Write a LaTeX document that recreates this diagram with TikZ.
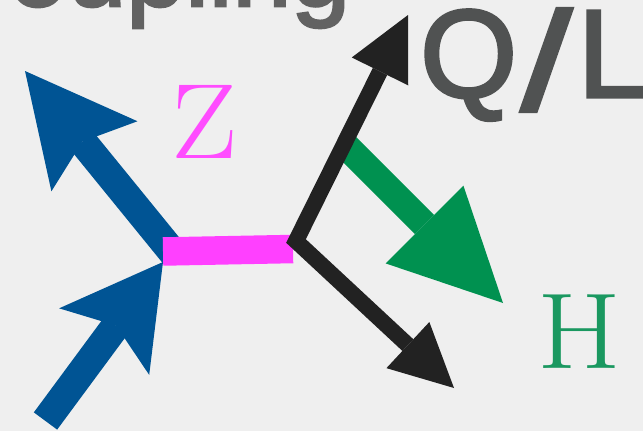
\documentclass[tikz,border=0pt]{standalone}
\usepackage{fontspec}
\newfontfamily\headfont[FakeBold=2.5]{Liberation Sans}
\usetikzlibrary{arrows.meta}
\definecolor{bgcol}{RGB}{239,239,239}
\definecolor{zblue}{RGB}{0,84,148}
\definecolor{zmag}{RGB}{255,64,255}
\definecolor{zmagtext}{RGB}{255,76,255}
\definecolor{zblack}{RGB}{34,34,34}
\definecolor{zgreen}{RGB}{0,145,80}
\definecolor{zgreentext}{RGB}{26,152,96}
\definecolor{qlgray}{RGB}{80,82,82}
\definecolor{titlegray}{RGB}{98,98,98}
\tikzset{
  blueshaft/.style={draw=zblue, line width=29pt, line cap=butt},
  magbar/.style={draw=zmag, line width=28.5pt, line cap=butt},
  greenshaft/.style={draw=zgreen, line width=27pt, line cap=butt,
    -{Triangle[length=111pt, width=110pt, line width=0pt]}},
  blackline/.style={draw=zblack, line width=16pt, line join=miter, line cap=butt,
    {Triangle[length=63pt, width=63pt, line width=0pt]}-{Triangle[length=63pt, width=63pt, line width=0pt]}},
  labeltext/.style={inner sep=0pt, outer sep=0pt},
}
\begin{document}
\begin{tikzpicture}[x=1pt, y=-1pt]
\useasboundingbox (0,0) rectangle (643,431);
\clip (0,0) rectangle (643,431);
\fill[bgcol] (0,0) rectangle (643,431);

% coordinates
\coordinate (b1tail) at (45.5,421);
\coordinate (b1tip) at (163,262);
\coordinate (b2start) at (174,254);
\coordinate (b2tip) at (25,71);
\coordinate (mz1) at (163,251.5);
\coordinate (mz2) at (293,249);
\coordinate (kv) at (296,241);
\coordinate (ku) at (408,15);
\coordinate (kd) at (454,388);
\coordinate (gs) at (344,144);
\coordinate (gt) at (503,303);

% title text (cropped)
\node[labeltext, anchor=base west, text=titlegray, font={\headfont\fontsize{106}{110}\selectfont}] (title) at (-68,6) {Coupling};

% blue fermion arrows
\draw[blueshaft, -{Stealth[length=99pt, width=112pt, inset=20pt, line width=0pt]}] (b1tail) -- (b1tip);
\draw[blueshaft, -{Stealth[length=110pt, width=111pt, inset=19pt, line width=0pt]}] (b2start) -- (b2tip);

% Z propagator
\draw[magbar] (mz1) -- (mz2);

% Higgs arrow
\draw[greenshaft] (gs) -- (gt);

% outgoing quark/lepton lines
\draw[blackline] (ku) -- (kv) -- (kd);

% labels
\node[labeltext, text=zmagtext, font={\fontsize{107}{110}\selectfont}] (zlab) at (204.5,121.5) {\scalebox{1.1}[1]{Z}};
\node[labeltext, text=zgreentext, font={\fontsize{108}{110}\selectfont}] (hlab) at (579,332) {\scalebox{1.12}[1]{H}};
\node[labeltext, anchor=base west, text=qlgray, font={\headfont\fontsize{125}{130}\selectfont}] (ql) at (420,97) {Q\kern4pt\raisebox{-13pt}{\scalebox{1.45}[1.12]{/}}\kern6pt L};
\end{tikzpicture}
\end{document}
